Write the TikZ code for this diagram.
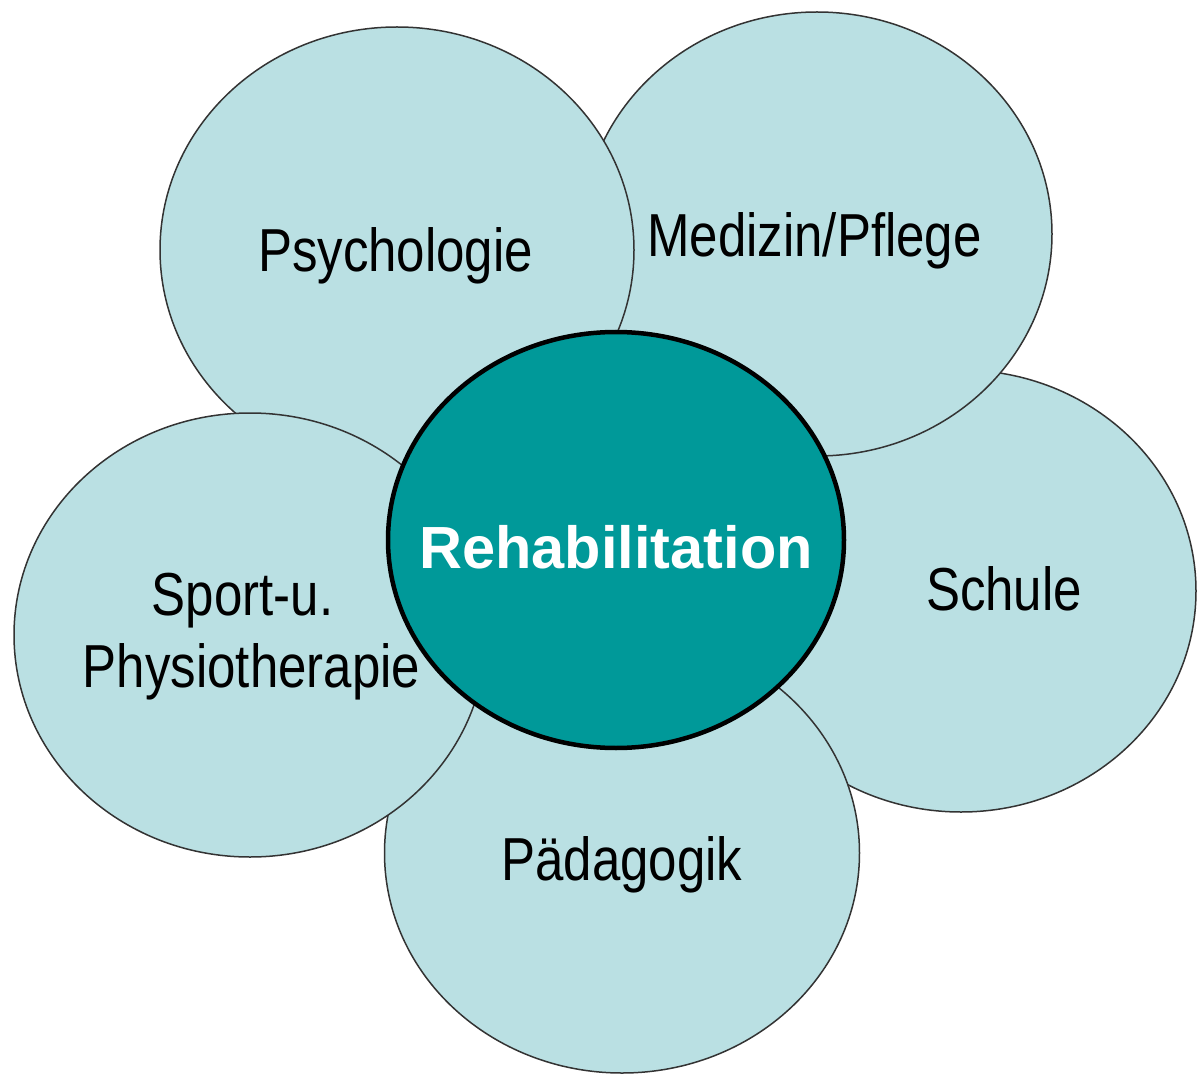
\documentclass[tikz,border=0pt]{standalone}
\usepackage{fontspec}
\setmainfont{Liberation Sans}
\newfontfamily\narrowfont[FakeStretch=0.84]{Liberation Sans}
\usetikzlibrary{shapes.geometric}
\definecolor{petalfill}{HTML}{BAE0E3}
\definecolor{corefill}{HTML}{009999}
\begin{document}
\begin{tikzpicture}[x=1pt,y=-1pt,
  petal/.style={ellipse,draw=black!80,line width=1.5pt,fill=petalfill,inner sep=0pt,outer sep=0pt},
  corebox/.style={ellipse,draw=black,line width=4.5pt,fill=corefill,inner sep=0pt,outer sep=0pt},
  lbl/.style={anchor=base,font=\narrowfont\fontsize{60.7}{72}\selectfont,text=black,inner sep=0pt},
  corelbl/.style={anchor=base,font=\bfseries\fontsize{59.5}{72}\selectfont,text=white,inner sep=0pt}]
\useasboundingbox (0,0) rectangle (1197,1075);
\node[petal,minimum width=470pt,minimum height=442pt] (schule) at (961,591) {};
\node[petal,minimum width=470pt,minimum height=444pt] (medizin) at (817,234) {};
\node[petal,minimum width=474pt,minimum height=446pt] (psych) at (397,250) {};
\node[petal,minimum width=475pt,minimum height=440pt] (paed) at (622,853) {};
\node[petal,minimum width=472pt,minimum height=444pt] (sport) at (250,635) {};
\node[corebox,minimum width=456pt,minimum height=416pt] (reha) at (616,540) {};
\node[lbl] (psychlbl) at (395.5,272) {Psychologie};
\node[lbl] (medlbl) at (814.5,257) {Medizin/Pflege};
\node[lbl] (schullbl) at (1004,610) {Schule};
\node[lbl] (sportlbl) at (242.5,615) {Sport-u.};
\node[lbl] (physlbl) at (251.5,687) {Physiotherapie};
\node[lbl] (paedlbl) at (622,880) {Pädagogik};
\node[corelbl] (rehalbl) at (616,568) {Rehabilitation};
\end{tikzpicture}
\end{document}
